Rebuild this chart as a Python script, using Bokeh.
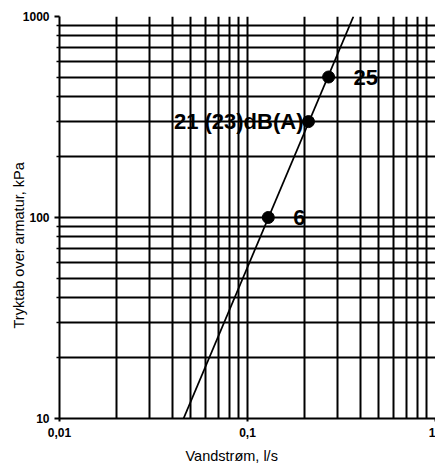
import math
from bokeh.plotting import figure
from bokeh.models import FixedTicker, CustomJSTickFormatter, Title, ColumnDataSource
from bokeh.core.properties import value
from bokeh.embed import file_html
from bokeh.resources import INLINE

# ---- data ----
flow_line = [0.0457, 0.366]
drop_line = [10, 1000]
point_flow = [0.129, 0.211, 0.27]
point_drop = [100, 300, 500]
point_labels = ["6", "21 (23)dB(A)", "25"]
x_ticks = [0.01, 0.1, 1]
y_ticks = [10, 100, 1000]
x_title = "Vandstrøm, l/s"
y_title = "Tryktab over armatur, kPa"

FONT = "Liberation Sans"

p = figure(width=435, height=470, x_axis_type="log", y_axis_type="log",
           x_range=(x_ticks[0], x_ticks[-1]), y_range=(y_ticks[0], y_ticks[-1]),
           output_backend="svg", toolbar_location=None,
           min_border_left=59, min_border_right=0, min_border_top=16, min_border_bottom=52)
p.outline_line_color = None
p.background_fill_color = "white"
p.border_fill_color = "white"

def minors(ticks):
    out = []
    for t in ticks[:-1]:
        out += [t * k for k in range(2, 10)]
    return out

p.xaxis.ticker = FixedTicker(ticks=x_ticks, minor_ticks=minors(x_ticks))
p.yaxis.ticker = FixedTicker(ticks=y_ticks, minor_ticks=minors(y_ticks))
fmt = CustomJSTickFormatter(code="return String(+tick.toPrecision(6)).replace('.', ',');")
p.xaxis.formatter = fmt
p.yaxis.formatter = fmt

for ax in (p.xaxis, p.yaxis):
    ax.axis_line_color = "black"
    ax.axis_line_width = 2
    ax.major_tick_line_color = "black"
    ax.minor_tick_line_color = "black"
    ax.major_tick_line_width = 2
    ax.minor_tick_line_width = 1.5
    ax.major_tick_in = 0
    ax.minor_tick_in = 0
    ax.major_label_text_font = FONT
    ax.major_label_text_font_style = "bold"
    ax.major_label_text_font_size = "12px"
    ax.major_label_text_color = "black"

p.yaxis.major_tick_out = 5
p.yaxis.minor_tick_out = 3
p.yaxis.major_label_standoff = 5
p.xaxis.major_tick_out = 3
p.xaxis.minor_tick_out = 0
p.xaxis.major_label_standoff = 6

for g in (p.xgrid, p.ygrid):
    g.grid_line_color = "black"
    g.grid_line_width = 2
    g.minor_grid_line_color = "black"
    g.minor_grid_line_width = 2

p.line(flow_line, drop_line, line_color="black", line_width=1.8)

src = ColumnDataSource(dict(x=point_flow, y=point_drop, t=point_labels))
p.scatter("x", "y", source=src, size=12, fill_color="black", line_color="black")

right_src = ColumnDataSource(dict(x=[point_flow[0], point_flow[2]], y=[point_drop[0], point_drop[2]],
                                  t=[point_labels[0], point_labels[2]]))
left_src = ColumnDataSource(dict(x=[point_flow[1]], y=[point_drop[1]], t=[point_labels[1]]))
p.text("x", "y", text="t", source=right_src, x_offset=25, text_align="left", text_baseline="middle",
       text_font=value(FONT), text_font_style="bold", text_font_size="22px", text_color="black")
p.text("x", "y", text="t", source=left_src, x_offset=-5, text_align="right", text_baseline="middle",
       text_font=value(FONT), text_font_style="bold", text_font_size="22px", text_color="black")

p.add_layout(Title(text=y_title, align="left", offset=90, standoff=-14,
                   text_font=FONT, text_font_size="14.5px", text_font_style="normal",
                   text_color="black"), "left")
p.add_layout(Title(text=x_title, align="left", offset=126, standoff=12,
                   text_font=FONT, text_font_size="14.5px", text_font_style="normal",
                   text_color="black"), "below")

open("out.html", "w").write(file_html(p, INLINE))
